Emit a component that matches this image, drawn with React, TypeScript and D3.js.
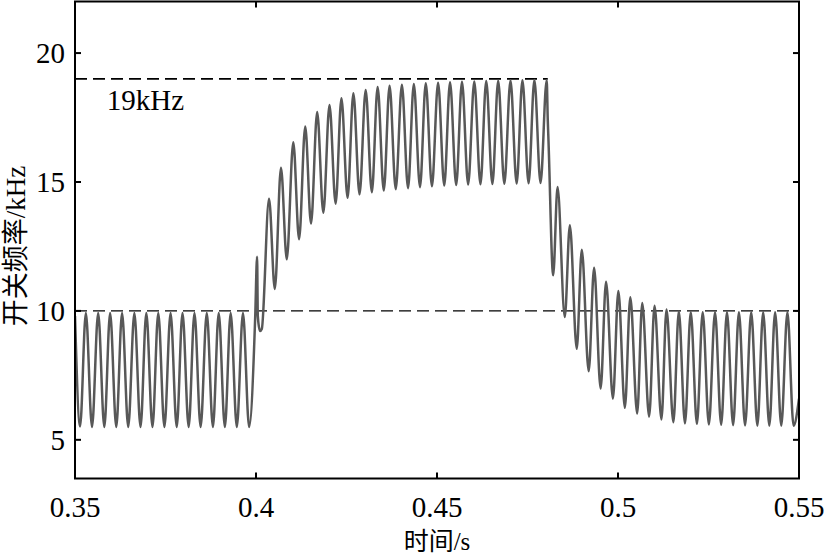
import React from "react";
import * as d3 from "d3";

// Time (s) of each read extreme / feature point of the switching-frequency waveform
const time: number[] = [
  0.3500, 0.3514, 0.3530, 0.3547, 0.3564, 0.3581, 0.3597, 0.3614, 0.3630, 0.3647,
  0.3664, 0.3681, 0.3697, 0.3714, 0.3730, 0.3747, 0.3764, 0.3781, 0.3797, 0.3814,
  0.3830, 0.3847, 0.3864, 0.3881, 0.3897, 0.3914, 0.3930, 0.3947, 0.3964, 0.3981,
  0.3998, 0.4003, 0.4005, 0.4011, 0.4016,
  0.4036, 0.4052, 0.4069, 0.4085, 0.4103, 0.4119, 0.4136, 0.4152, 0.4169, 0.4186,
  0.4203, 0.4220, 0.4236, 0.4253, 0.4269, 0.4286, 0.4303, 0.4320, 0.4336, 0.4353,
  0.4369, 0.4386, 0.4403, 0.4420, 0.4436, 0.4453, 0.4469, 0.4486, 0.4503, 0.4520,
  0.4536, 0.4553, 0.4569, 0.4586, 0.4603, 0.4620, 0.4636, 0.4653, 0.4669, 0.4686,
  0.4703, 0.4720, 0.4736, 0.4753, 0.4769, 0.4786, 0.4803,
  0.4806, 0.4808,
  0.4821, 0.4833, 0.4853, 0.4867, 0.4886, 0.4900, 0.4919, 0.4934, 0.4952, 0.4967,
  0.4986, 0.5001, 0.5019, 0.5034, 0.5053, 0.5067, 0.5086, 0.5101, 0.5120, 0.5134,
  0.5153, 0.5168, 0.5185, 0.5201, 0.5218, 0.5234, 0.5251, 0.5268, 0.5285, 0.5301,
  0.5318, 0.5334, 0.5351, 0.5368, 0.5385, 0.5401, 0.5418, 0.5434, 0.5451, 0.5468,
  0.5485, 0.5500,
];

// Switching frequency (kHz) at each point above
const freq: number[] = [
  9.80, 5.52, 9.92, 5.50, 9.92, 5.50, 9.92, 5.50, 9.92, 5.50,
  9.92, 5.50, 9.92, 5.50, 9.92, 5.50, 9.92, 5.50, 9.92, 5.50,
  9.92, 5.50, 9.92, 5.50, 9.92, 5.50, 9.92, 5.50, 9.92, 5.50,
  9.85, 12.10, 9.80, 9.22, 9.30,
  14.35, 10.85, 15.55, 12.00, 16.54, 12.78, 17.15, 13.39, 17.71, 13.81,
  17.99, 14.16, 18.25, 14.39, 18.44, 14.52, 18.57, 14.60, 18.68, 14.67,
  18.73, 14.72, 18.77, 14.76, 18.80, 14.80, 18.83, 14.83, 18.85, 14.86,
  18.87, 14.88, 18.89, 14.90, 18.90, 14.91, 18.92, 14.92, 18.93, 14.93,
  18.94, 14.94, 18.95, 14.95, 18.96, 14.96, 18.95,
  17.40, 16.60,
  11.38, 14.81, 9.76, 13.32, 8.53, 12.37, 7.66, 11.67, 6.99, 11.13,
  6.60, 10.77, 6.24, 10.53, 6.02, 10.31, 5.90, 10.20, 5.79, 10.05,
  5.68, 9.98, 5.64, 9.95, 5.62, 9.95, 5.60, 9.95, 5.58, 9.95,
  5.57, 9.95, 5.56, 9.95, 5.55, 9.95, 5.55, 9.95, 5.55, 9.95,
  5.55, 6.60,
];

const xTicks: number[] = [0.35, 0.4, 0.45, 0.5, 0.55];
const xTickLabels: string[] = ["0.35", "0.4", "0.45", "0.5", "0.55"];
const yTicks: number[] = [5, 10, 15, 20];
const yTickLabels: string[] = ["5", "10", "15", "20"];

const refHigh = { value: 19, end: 0.4806, label: "19kHz" };
const refLow = { value: 10 };

const xDomain: [number, number] = [0.35, 0.55];
const yDomain: [number, number] = [3.5, 22];

const xTitle = "时间/s";
const yTitle = "开关频率/kHz";

export default function App() {
  const W = 824;
  const H = 557;
  const left = 75;
  const right = 799;
  const top = 1.5;
  const bottom = 478.5;

  const x = d3.scaleLinear().domain(xDomain).range([left, right]);
  const y = d3.scaleLinear().domain(yDomain).range([bottom, top]);

  const pts: [number, number][] = time.map((t, i) => [t, freq[i]]);
  const line = d3
    .line<[number, number]>()
    .x((d) => x(d[0]))
    .y((d) => y(d[1]))
    .curve(d3.curveMonotoneX);

  const font = "'Liberation Serif', 'Times New Roman', 'Noto Sans CJK SC', serif";
  const fs = 29;
  const tickLen = 6;

  return (
    <svg
      width={W}
      height={H}
      viewBox={`0 0 ${W} ${H}`}
      style={{ position: "absolute", left: 0, top: 0, background: "#fff", display: "block" }}
    >
      <defs>
        <clipPath id="plotClip">
          <rect x={left} y={top} width={right - left} height={bottom - top} />
        </clipPath>
      </defs>
      <rect x={0} y={0} width={W} height={H} fill="#fff" />

      {/* reference dashed lines */}
      <line
        x1={left}
        x2={x(refHigh.end)}
        y1={y(refHigh.value)}
        y2={y(refHigh.value)}
        stroke="#000"
        strokeWidth={1.7}
        strokeDasharray="12,6"
      />
      <line
        x1={left}
        x2={right}
        y1={y(refLow.value)}
        y2={y(refLow.value)}
        stroke="#000"
        strokeWidth={1.4}
        strokeDasharray="12,6"
      />
      <text
        x={x(0.3588)}
        y={y(refHigh.value) + 31}
        fontFamily={font}
        fontSize={fs}
        fill="#000"
      >
        {refHigh.label}
      </text>

      {/* waveform */}
      <path
        d={line(pts) || ""}
        fill="none"
        stroke="#585858"
        strokeWidth={2.5}
        strokeLinejoin="round"
        clipPath="url(#plotClip)"
      />

      {/* frame */}
      <rect
        x={left}
        y={top}
        width={right - left}
        height={bottom - top}
        fill="none"
        stroke="#000"
        strokeWidth={2}
      />

      {/* x ticks */}
      {xTicks.map((t, i) => (
        <g key={"xt" + i}>
          <line x1={x(t)} x2={x(t)} y1={bottom} y2={bottom - tickLen} stroke="#000" strokeWidth={2} />
          <line x1={x(t)} x2={x(t)} y1={top} y2={top + tickLen} stroke="#000" strokeWidth={2} />
          <text
            x={x(t)}
            y={517}
            textAnchor="middle"
            fontFamily={font}
            fontSize={fs}
            fill="#000"
          >
            {xTickLabels[i]}
          </text>
        </g>
      ))}

      {/* y ticks */}
      {yTicks.map((v, i) => (
        <g key={"yt" + i}>
          <line x1={left} x2={left + tickLen} y1={y(v)} y2={y(v)} stroke="#000" strokeWidth={2} />
          <line x1={right} x2={right - tickLen} y1={y(v)} y2={y(v)} stroke="#000" strokeWidth={2} />
          <text
            x={65}
            y={y(v)}
            dy="0.35em"
            textAnchor="end"
            fontFamily={font}
            fontSize={fs}
            fill="#000"
          >
            {yTickLabels[i]}
          </text>
        </g>
      ))}

      {/* axis titles */}
      <text
        x={x(0.45)}
        y={550}
        textAnchor="middle"
        fontFamily={font}
        fontSize={25}
        fill="#000"
      >
        {xTitle}
      </text>
      <text
        transform={`translate(16, 246) rotate(-90)`}
        textAnchor="middle"
        dominantBaseline="central"
        fontFamily={font}
        fontSize={27}
        fill="#000"
      >
        {yTitle}
      </text>
    </svg>
  );
}
